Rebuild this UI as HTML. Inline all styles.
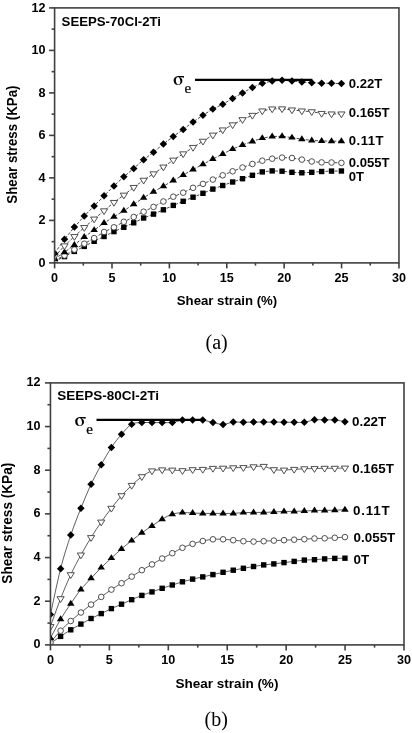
<!DOCTYPE html>
<html><head><meta charset="utf-8"><title>Shear stress vs shear strain</title>
<style>html,body{margin:0;padding:0;background:#fff;width:412px;height:733px;overflow:hidden}svg{display:block}</style>
</head><body>
<svg width="412" height="733" viewBox="0 0 412 733">
<style>.t{font-family:"Liberation Sans", Arial, sans-serif;font-weight:bold;font-size:12.6px;fill:#000}.lab{font-family:"Liberation Sans", Arial, sans-serif;font-weight:bold;font-size:13.1px;fill:#000}.lab2{font-family:"Liberation Sans", Arial, sans-serif;font-weight:bold;font-size:13.4px;fill:#000}.ttl{font-family:"Liberation Sans", Arial, sans-serif;font-weight:bold;font-size:13px;fill:#000}.sig{font-family:"Noto Serif CJK SC","Liberation Serif", "Times New Roman", serif;font-weight:bold;font-size:15.4px;fill:#000}.sub{font-family:"Liberation Serif", "Times New Roman", serif;font-size:13.6px;fill:#000;stroke:#000;stroke-width:0.25px}.cap{font-family:"Liberation Serif", "Times New Roman", serif;font-size:20px;fill:#000}</style>
<rect width="412" height="733" fill="#fff"/>
<clipPath id="ca"><rect x="54.6" y="7.9" width="344.35" height="255"/></clipPath>
<g clip-path="url(#ca)">
<path d="M54.6,261.5 L64.49,256.6 L74.38,251.4 L84.27,246.4 L94.16,241.3 L104.05,236.5 L113.94,231.6 L123.83,227.3 L133.72,222.8 L143.61,218 L153.5,214.1 L163.39,209.8 L173.28,205.4 L183.17,201.3 L193.06,197.2 L202.95,193.3 L212.84,189.1 L222.73,185.5 L232.62,182 L242.51,178.7 L252.4,175.3 L262.29,171.9 L272.18,170.9 L282.07,171.2 L291.96,172.3 L301.85,172.8 L311.74,172.3 L321.63,171.5 L331.52,171.1 L341.41,171" fill="none" stroke="#2a2a2a" stroke-width="0.85" stroke-dasharray="3,1.6"/>
<path d="M54.6,260.5 L64.49,255.5 L74.38,249.6 L84.27,243.7 L94.16,238.1 L104.05,232 L113.94,227.3 L123.83,221.8 L133.72,217 L143.61,211.7 L153.5,206.9 L163.39,201.5 L173.28,196.7 L183.17,192.7 L193.06,187.8 L202.95,183.9 L212.84,179.6 L222.73,175.3 L232.62,171.3 L242.51,167.5 L252.4,164 L262.29,160.7 L272.18,158.7 L282.07,157.6 L291.96,158 L301.85,159.6 L311.74,161.5 L321.63,162.4 L331.52,162.5 L341.41,162.9" fill="none" stroke="#2a2a2a" stroke-width="0.85" stroke-dasharray="3,1.6"/>
<path d="M54.6,259 L64.49,252.3 L74.38,244.9 L84.27,236.9 L94.16,230.1 L104.05,223 L113.94,216.8 L123.83,210.7 L133.72,204.3 L143.61,197.7 L153.5,191.7 L163.39,186.2 L173.28,180.5 L183.17,175 L193.06,169.5 L202.95,164.3 L212.84,159 L222.73,154 L232.62,149.1 L242.51,144.9 L252.4,141.4 L262.29,138.1 L272.18,136.5 L282.07,136.3 L291.96,137.6 L301.85,139.2 L311.74,140.4 L321.63,140.9 L331.52,141.2 L341.41,141.2" fill="none" stroke="#2a2a2a" stroke-width="0.85" stroke-dasharray="3,1.6"/>
<path d="M54.6,256.6 L64.49,245.8 L74.38,236.5 L84.27,227.5 L94.16,219 L104.05,210.8 L113.94,202.4 L123.83,195.1 L133.72,187.4 L143.61,180.2 L153.5,173.8 L163.39,167 L173.28,160.1 L183.17,153.8 L193.06,147.4 L202.95,141.2 L212.84,135.1 L222.73,129.9 L232.62,124.8 L242.51,119.6 L252.4,115.3 L262.29,110.9 L272.18,108.9 L282.07,108.8 L291.96,109.9 L301.85,110.9 L311.74,111.7 L321.63,113.4 L331.52,113.9 L341.41,113.9" fill="none" stroke="#2a2a2a" stroke-width="0.85" stroke-dasharray="3,1.6"/>
<path d="M54.6,253.4 L64.49,239.2 L74.38,227.1 L84.27,216 L94.16,206 L104.05,195.8 L113.94,185.9 L123.83,176.8 L133.72,168.4 L143.61,159.7 L153.5,152.3 L163.39,144 L173.28,136.6 L183.17,129.4 L193.06,122 L202.95,115.2 L212.84,109 L222.73,104.2 L232.62,98.5 L242.51,92.9 L252.4,87.5 L262.29,83.2 L272.18,81.1 L282.07,80.3 L291.96,81 L301.85,81.9 L311.74,82.7 L321.63,83.3 L331.52,83.3 L341.41,83.6" fill="none" stroke="#2a2a2a" stroke-width="0.85" stroke-dasharray="3,1.6"/>
<rect x="51.9" y="258.8" width="5.4" height="5.4" fill="#000"/>
<rect x="61.79" y="253.9" width="5.4" height="5.4" fill="#000"/>
<rect x="71.68" y="248.7" width="5.4" height="5.4" fill="#000"/>
<rect x="81.57" y="243.7" width="5.4" height="5.4" fill="#000"/>
<rect x="91.46" y="238.6" width="5.4" height="5.4" fill="#000"/>
<rect x="101.35" y="233.8" width="5.4" height="5.4" fill="#000"/>
<rect x="111.24" y="228.9" width="5.4" height="5.4" fill="#000"/>
<rect x="121.13" y="224.6" width="5.4" height="5.4" fill="#000"/>
<rect x="131.02" y="220.1" width="5.4" height="5.4" fill="#000"/>
<rect x="140.91" y="215.3" width="5.4" height="5.4" fill="#000"/>
<rect x="150.8" y="211.4" width="5.4" height="5.4" fill="#000"/>
<rect x="160.69" y="207.1" width="5.4" height="5.4" fill="#000"/>
<rect x="170.58" y="202.7" width="5.4" height="5.4" fill="#000"/>
<rect x="180.47" y="198.6" width="5.4" height="5.4" fill="#000"/>
<rect x="190.36" y="194.5" width="5.4" height="5.4" fill="#000"/>
<rect x="200.25" y="190.6" width="5.4" height="5.4" fill="#000"/>
<rect x="210.14" y="186.4" width="5.4" height="5.4" fill="#000"/>
<rect x="220.03" y="182.8" width="5.4" height="5.4" fill="#000"/>
<rect x="229.92" y="179.3" width="5.4" height="5.4" fill="#000"/>
<rect x="239.81" y="176" width="5.4" height="5.4" fill="#000"/>
<rect x="249.7" y="172.6" width="5.4" height="5.4" fill="#000"/>
<rect x="259.59" y="169.2" width="5.4" height="5.4" fill="#000"/>
<rect x="269.48" y="168.2" width="5.4" height="5.4" fill="#000"/>
<rect x="279.37" y="168.5" width="5.4" height="5.4" fill="#000"/>
<rect x="289.26" y="169.6" width="5.4" height="5.4" fill="#000"/>
<rect x="299.15" y="170.1" width="5.4" height="5.4" fill="#000"/>
<rect x="309.04" y="169.6" width="5.4" height="5.4" fill="#000"/>
<rect x="318.93" y="168.8" width="5.4" height="5.4" fill="#000"/>
<rect x="328.82" y="168.4" width="5.4" height="5.4" fill="#000"/>
<rect x="338.71" y="168.3" width="5.4" height="5.4" fill="#000"/>
<circle cx="54.6" cy="260.5" r="2.8" fill="#fff" stroke="#3c3c3c" stroke-width="0.9"/>
<circle cx="64.49" cy="255.5" r="2.8" fill="#fff" stroke="#3c3c3c" stroke-width="0.9"/>
<circle cx="74.38" cy="249.6" r="2.8" fill="#fff" stroke="#3c3c3c" stroke-width="0.9"/>
<circle cx="84.27" cy="243.7" r="2.8" fill="#fff" stroke="#3c3c3c" stroke-width="0.9"/>
<circle cx="94.16" cy="238.1" r="2.8" fill="#fff" stroke="#3c3c3c" stroke-width="0.9"/>
<circle cx="104.05" cy="232" r="2.8" fill="#fff" stroke="#3c3c3c" stroke-width="0.9"/>
<circle cx="113.94" cy="227.3" r="2.8" fill="#fff" stroke="#3c3c3c" stroke-width="0.9"/>
<circle cx="123.83" cy="221.8" r="2.8" fill="#fff" stroke="#3c3c3c" stroke-width="0.9"/>
<circle cx="133.72" cy="217" r="2.8" fill="#fff" stroke="#3c3c3c" stroke-width="0.9"/>
<circle cx="143.61" cy="211.7" r="2.8" fill="#fff" stroke="#3c3c3c" stroke-width="0.9"/>
<circle cx="153.5" cy="206.9" r="2.8" fill="#fff" stroke="#3c3c3c" stroke-width="0.9"/>
<circle cx="163.39" cy="201.5" r="2.8" fill="#fff" stroke="#3c3c3c" stroke-width="0.9"/>
<circle cx="173.28" cy="196.7" r="2.8" fill="#fff" stroke="#3c3c3c" stroke-width="0.9"/>
<circle cx="183.17" cy="192.7" r="2.8" fill="#fff" stroke="#3c3c3c" stroke-width="0.9"/>
<circle cx="193.06" cy="187.8" r="2.8" fill="#fff" stroke="#3c3c3c" stroke-width="0.9"/>
<circle cx="202.95" cy="183.9" r="2.8" fill="#fff" stroke="#3c3c3c" stroke-width="0.9"/>
<circle cx="212.84" cy="179.6" r="2.8" fill="#fff" stroke="#3c3c3c" stroke-width="0.9"/>
<circle cx="222.73" cy="175.3" r="2.8" fill="#fff" stroke="#3c3c3c" stroke-width="0.9"/>
<circle cx="232.62" cy="171.3" r="2.8" fill="#fff" stroke="#3c3c3c" stroke-width="0.9"/>
<circle cx="242.51" cy="167.5" r="2.8" fill="#fff" stroke="#3c3c3c" stroke-width="0.9"/>
<circle cx="252.4" cy="164" r="2.8" fill="#fff" stroke="#3c3c3c" stroke-width="0.9"/>
<circle cx="262.29" cy="160.7" r="2.8" fill="#fff" stroke="#3c3c3c" stroke-width="0.9"/>
<circle cx="272.18" cy="158.7" r="2.8" fill="#fff" stroke="#3c3c3c" stroke-width="0.9"/>
<circle cx="282.07" cy="157.6" r="2.8" fill="#fff" stroke="#3c3c3c" stroke-width="0.9"/>
<circle cx="291.96" cy="158" r="2.8" fill="#fff" stroke="#3c3c3c" stroke-width="0.9"/>
<circle cx="301.85" cy="159.6" r="2.8" fill="#fff" stroke="#3c3c3c" stroke-width="0.9"/>
<circle cx="311.74" cy="161.5" r="2.8" fill="#fff" stroke="#3c3c3c" stroke-width="0.9"/>
<circle cx="321.63" cy="162.4" r="2.8" fill="#fff" stroke="#3c3c3c" stroke-width="0.9"/>
<circle cx="331.52" cy="162.5" r="2.8" fill="#fff" stroke="#3c3c3c" stroke-width="0.9"/>
<circle cx="341.41" cy="162.9" r="2.8" fill="#fff" stroke="#3c3c3c" stroke-width="0.9"/>
<path d="M54.6,255.05L58.35,261L50.85,261Z" fill="#000"/>
<path d="M64.49,248.35L68.24,254.3L60.74,254.3Z" fill="#000"/>
<path d="M74.38,240.95L78.13,246.9L70.63,246.9Z" fill="#000"/>
<path d="M84.27,232.95L88.02,238.9L80.52,238.9Z" fill="#000"/>
<path d="M94.16,226.15L97.91,232.1L90.41,232.1Z" fill="#000"/>
<path d="M104.05,219.05L107.8,225L100.3,225Z" fill="#000"/>
<path d="M113.94,212.85L117.69,218.8L110.19,218.8Z" fill="#000"/>
<path d="M123.83,206.75L127.58,212.7L120.08,212.7Z" fill="#000"/>
<path d="M133.72,200.35L137.47,206.3L129.97,206.3Z" fill="#000"/>
<path d="M143.61,193.75L147.36,199.7L139.86,199.7Z" fill="#000"/>
<path d="M153.5,187.75L157.25,193.7L149.75,193.7Z" fill="#000"/>
<path d="M163.39,182.25L167.14,188.2L159.64,188.2Z" fill="#000"/>
<path d="M173.28,176.55L177.03,182.5L169.53,182.5Z" fill="#000"/>
<path d="M183.17,171.05L186.92,177L179.42,177Z" fill="#000"/>
<path d="M193.06,165.55L196.81,171.5L189.31,171.5Z" fill="#000"/>
<path d="M202.95,160.35L206.7,166.3L199.2,166.3Z" fill="#000"/>
<path d="M212.84,155.05L216.59,161L209.09,161Z" fill="#000"/>
<path d="M222.73,150.05L226.48,156L218.98,156Z" fill="#000"/>
<path d="M232.62,145.15L236.37,151.1L228.87,151.1Z" fill="#000"/>
<path d="M242.51,140.95L246.26,146.9L238.76,146.9Z" fill="#000"/>
<path d="M252.4,137.45L256.15,143.4L248.65,143.4Z" fill="#000"/>
<path d="M262.29,134.15L266.04,140.1L258.54,140.1Z" fill="#000"/>
<path d="M272.18,132.55L275.93,138.5L268.43,138.5Z" fill="#000"/>
<path d="M282.07,132.35L285.82,138.3L278.32,138.3Z" fill="#000"/>
<path d="M291.96,133.65L295.71,139.6L288.21,139.6Z" fill="#000"/>
<path d="M301.85,135.25L305.6,141.2L298.1,141.2Z" fill="#000"/>
<path d="M311.74,136.45L315.49,142.4L307.99,142.4Z" fill="#000"/>
<path d="M321.63,136.95L325.38,142.9L317.88,142.9Z" fill="#000"/>
<path d="M331.52,137.25L335.27,143.2L327.77,143.2Z" fill="#000"/>
<path d="M341.41,137.25L345.16,143.2L337.66,143.2Z" fill="#000"/>
<path d="M51,254.65L58.2,254.65L54.6,260.4Z" fill="#fff" stroke="#3c3c3c" stroke-width="0.9"/>
<path d="M60.89,243.85L68.09,243.85L64.49,249.6Z" fill="#fff" stroke="#3c3c3c" stroke-width="0.9"/>
<path d="M70.78,234.55L77.98,234.55L74.38,240.3Z" fill="#fff" stroke="#3c3c3c" stroke-width="0.9"/>
<path d="M80.67,225.55L87.87,225.55L84.27,231.3Z" fill="#fff" stroke="#3c3c3c" stroke-width="0.9"/>
<path d="M90.56,217.05L97.76,217.05L94.16,222.8Z" fill="#fff" stroke="#3c3c3c" stroke-width="0.9"/>
<path d="M100.45,208.85L107.65,208.85L104.05,214.6Z" fill="#fff" stroke="#3c3c3c" stroke-width="0.9"/>
<path d="M110.34,200.45L117.54,200.45L113.94,206.2Z" fill="#fff" stroke="#3c3c3c" stroke-width="0.9"/>
<path d="M120.23,193.15L127.43,193.15L123.83,198.9Z" fill="#fff" stroke="#3c3c3c" stroke-width="0.9"/>
<path d="M130.12,185.45L137.32,185.45L133.72,191.2Z" fill="#fff" stroke="#3c3c3c" stroke-width="0.9"/>
<path d="M140.01,178.25L147.21,178.25L143.61,184Z" fill="#fff" stroke="#3c3c3c" stroke-width="0.9"/>
<path d="M149.9,171.85L157.1,171.85L153.5,177.6Z" fill="#fff" stroke="#3c3c3c" stroke-width="0.9"/>
<path d="M159.79,165.05L166.99,165.05L163.39,170.8Z" fill="#fff" stroke="#3c3c3c" stroke-width="0.9"/>
<path d="M169.68,158.15L176.88,158.15L173.28,163.9Z" fill="#fff" stroke="#3c3c3c" stroke-width="0.9"/>
<path d="M179.57,151.85L186.77,151.85L183.17,157.6Z" fill="#fff" stroke="#3c3c3c" stroke-width="0.9"/>
<path d="M189.46,145.45L196.66,145.45L193.06,151.2Z" fill="#fff" stroke="#3c3c3c" stroke-width="0.9"/>
<path d="M199.35,139.25L206.55,139.25L202.95,145Z" fill="#fff" stroke="#3c3c3c" stroke-width="0.9"/>
<path d="M209.24,133.15L216.44,133.15L212.84,138.9Z" fill="#fff" stroke="#3c3c3c" stroke-width="0.9"/>
<path d="M219.13,127.95L226.33,127.95L222.73,133.7Z" fill="#fff" stroke="#3c3c3c" stroke-width="0.9"/>
<path d="M229.02,122.85L236.22,122.85L232.62,128.6Z" fill="#fff" stroke="#3c3c3c" stroke-width="0.9"/>
<path d="M238.91,117.65L246.11,117.65L242.51,123.4Z" fill="#fff" stroke="#3c3c3c" stroke-width="0.9"/>
<path d="M248.8,113.35L256,113.35L252.4,119.1Z" fill="#fff" stroke="#3c3c3c" stroke-width="0.9"/>
<path d="M258.69,108.95L265.89,108.95L262.29,114.7Z" fill="#fff" stroke="#3c3c3c" stroke-width="0.9"/>
<path d="M268.58,106.95L275.78,106.95L272.18,112.7Z" fill="#fff" stroke="#3c3c3c" stroke-width="0.9"/>
<path d="M278.47,106.85L285.67,106.85L282.07,112.6Z" fill="#fff" stroke="#3c3c3c" stroke-width="0.9"/>
<path d="M288.36,107.95L295.56,107.95L291.96,113.7Z" fill="#fff" stroke="#3c3c3c" stroke-width="0.9"/>
<path d="M298.25,108.95L305.45,108.95L301.85,114.7Z" fill="#fff" stroke="#3c3c3c" stroke-width="0.9"/>
<path d="M308.14,109.75L315.34,109.75L311.74,115.5Z" fill="#fff" stroke="#3c3c3c" stroke-width="0.9"/>
<path d="M318.03,111.45L325.23,111.45L321.63,117.2Z" fill="#fff" stroke="#3c3c3c" stroke-width="0.9"/>
<path d="M327.92,111.95L335.12,111.95L331.52,117.7Z" fill="#fff" stroke="#3c3c3c" stroke-width="0.9"/>
<path d="M337.81,111.95L345.01,111.95L341.41,117.7Z" fill="#fff" stroke="#3c3c3c" stroke-width="0.9"/>
<path d="M54.6,249.65L58.35,253.4L54.6,257.15L50.85,253.4Z" fill="#000"/>
<path d="M64.49,235.45L68.24,239.2L64.49,242.95L60.74,239.2Z" fill="#000"/>
<path d="M74.38,223.35L78.13,227.1L74.38,230.85L70.63,227.1Z" fill="#000"/>
<path d="M84.27,212.25L88.02,216L84.27,219.75L80.52,216Z" fill="#000"/>
<path d="M94.16,202.25L97.91,206L94.16,209.75L90.41,206Z" fill="#000"/>
<path d="M104.05,192.05L107.8,195.8L104.05,199.55L100.3,195.8Z" fill="#000"/>
<path d="M113.94,182.15L117.69,185.9L113.94,189.65L110.19,185.9Z" fill="#000"/>
<path d="M123.83,173.05L127.58,176.8L123.83,180.55L120.08,176.8Z" fill="#000"/>
<path d="M133.72,164.65L137.47,168.4L133.72,172.15L129.97,168.4Z" fill="#000"/>
<path d="M143.61,155.95L147.36,159.7L143.61,163.45L139.86,159.7Z" fill="#000"/>
<path d="M153.5,148.55L157.25,152.3L153.5,156.05L149.75,152.3Z" fill="#000"/>
<path d="M163.39,140.25L167.14,144L163.39,147.75L159.64,144Z" fill="#000"/>
<path d="M173.28,132.85L177.03,136.6L173.28,140.35L169.53,136.6Z" fill="#000"/>
<path d="M183.17,125.65L186.92,129.4L183.17,133.15L179.42,129.4Z" fill="#000"/>
<path d="M193.06,118.25L196.81,122L193.06,125.75L189.31,122Z" fill="#000"/>
<path d="M202.95,111.45L206.7,115.2L202.95,118.95L199.2,115.2Z" fill="#000"/>
<path d="M212.84,105.25L216.59,109L212.84,112.75L209.09,109Z" fill="#000"/>
<path d="M222.73,100.45L226.48,104.2L222.73,107.95L218.98,104.2Z" fill="#000"/>
<path d="M232.62,94.75L236.37,98.5L232.62,102.25L228.87,98.5Z" fill="#000"/>
<path d="M242.51,89.15L246.26,92.9L242.51,96.65L238.76,92.9Z" fill="#000"/>
<path d="M252.4,83.75L256.15,87.5L252.4,91.25L248.65,87.5Z" fill="#000"/>
<path d="M262.29,79.45L266.04,83.2L262.29,86.95L258.54,83.2Z" fill="#000"/>
<path d="M272.18,77.35L275.93,81.1L272.18,84.85L268.43,81.1Z" fill="#000"/>
<path d="M282.07,76.55L285.82,80.3L282.07,84.05L278.32,80.3Z" fill="#000"/>
<path d="M291.96,77.25L295.71,81L291.96,84.75L288.21,81Z" fill="#000"/>
<path d="M301.85,78.15L305.6,81.9L301.85,85.65L298.1,81.9Z" fill="#000"/>
<path d="M311.74,78.95L315.49,82.7L311.74,86.45L307.99,82.7Z" fill="#000"/>
<path d="M321.63,79.55L325.38,83.3L321.63,87.05L317.88,83.3Z" fill="#000"/>
<path d="M331.52,79.55L335.27,83.3L331.52,87.05L327.77,83.3Z" fill="#000"/>
<path d="M341.41,79.85L345.16,83.6L341.41,87.35L337.66,83.6Z" fill="#000"/>
</g>
<rect x="54.6" y="7.9" width="344.35" height="255" fill="none" stroke="#404040" stroke-width="1.6"/>
<line x1="49.1" y1="262.9" x2="54.6" y2="262.9" stroke="#404040" stroke-width="1.6"/>
<text x="45.4" y="266.7" text-anchor="end" class="t">0</text>
<line x1="51.6" y1="241.65" x2="54.6" y2="241.65" stroke="#404040" stroke-width="1.6"/>
<line x1="49.1" y1="220.4" x2="54.6" y2="220.4" stroke="#404040" stroke-width="1.6"/>
<text x="45.4" y="224.2" text-anchor="end" class="t">2</text>
<line x1="51.6" y1="199.15" x2="54.6" y2="199.15" stroke="#404040" stroke-width="1.6"/>
<line x1="49.1" y1="177.9" x2="54.6" y2="177.9" stroke="#404040" stroke-width="1.6"/>
<text x="45.4" y="181.7" text-anchor="end" class="t">4</text>
<line x1="51.6" y1="156.65" x2="54.6" y2="156.65" stroke="#404040" stroke-width="1.6"/>
<line x1="49.1" y1="135.4" x2="54.6" y2="135.4" stroke="#404040" stroke-width="1.6"/>
<text x="45.4" y="139.2" text-anchor="end" class="t">6</text>
<line x1="51.6" y1="114.15" x2="54.6" y2="114.15" stroke="#404040" stroke-width="1.6"/>
<line x1="49.1" y1="92.9" x2="54.6" y2="92.9" stroke="#404040" stroke-width="1.6"/>
<text x="45.4" y="96.7" text-anchor="end" class="t">8</text>
<line x1="51.6" y1="71.65" x2="54.6" y2="71.65" stroke="#404040" stroke-width="1.6"/>
<line x1="49.1" y1="50.4" x2="54.6" y2="50.4" stroke="#404040" stroke-width="1.6"/>
<text x="45.4" y="54.2" text-anchor="end" class="t">10</text>
<line x1="51.6" y1="29.15" x2="54.6" y2="29.15" stroke="#404040" stroke-width="1.6"/>
<line x1="49.1" y1="7.9" x2="54.6" y2="7.9" stroke="#404040" stroke-width="1.6"/>
<text x="45.4" y="11.7" text-anchor="end" class="t">12</text>
<line x1="54.6" y1="262.9" x2="54.6" y2="268.4" stroke="#404040" stroke-width="1.6"/>
<text x="54.6" y="282.3" text-anchor="middle" class="t">0</text>
<line x1="83.3" y1="262.9" x2="83.3" y2="265.6" stroke="#404040" stroke-width="1.6"/>
<line x1="111.99" y1="262.9" x2="111.99" y2="268.4" stroke="#404040" stroke-width="1.6"/>
<text x="111.99" y="282.3" text-anchor="middle" class="t">5</text>
<line x1="140.69" y1="262.9" x2="140.69" y2="265.6" stroke="#404040" stroke-width="1.6"/>
<line x1="169.38" y1="262.9" x2="169.38" y2="268.4" stroke="#404040" stroke-width="1.6"/>
<text x="169.38" y="282.3" text-anchor="middle" class="t">10</text>
<line x1="198.08" y1="262.9" x2="198.08" y2="265.6" stroke="#404040" stroke-width="1.6"/>
<line x1="226.77" y1="262.9" x2="226.77" y2="268.4" stroke="#404040" stroke-width="1.6"/>
<text x="226.77" y="282.3" text-anchor="middle" class="t">15</text>
<line x1="255.47" y1="262.9" x2="255.47" y2="265.6" stroke="#404040" stroke-width="1.6"/>
<line x1="284.17" y1="262.9" x2="284.17" y2="268.4" stroke="#404040" stroke-width="1.6"/>
<text x="284.17" y="282.3" text-anchor="middle" class="t">20</text>
<line x1="312.86" y1="262.9" x2="312.86" y2="265.6" stroke="#404040" stroke-width="1.6"/>
<line x1="341.56" y1="262.9" x2="341.56" y2="268.4" stroke="#404040" stroke-width="1.6"/>
<text x="341.56" y="282.3" text-anchor="middle" class="t">25</text>
<line x1="370.25" y1="262.9" x2="370.25" y2="265.6" stroke="#404040" stroke-width="1.6"/>
<line x1="398.95" y1="262.9" x2="398.95" y2="268.4" stroke="#404040" stroke-width="1.6"/>
<text x="398.95" y="282.3" text-anchor="middle" class="t">30</text>
<line x1="195" y1="79.9" x2="312.3" y2="79.9" stroke="#000" stroke-width="2.2"/>
<text transform="translate(172.9,84.9) scale(1.1,1)" class="sig">σ</text>
<text transform="translate(184.4,92.7) scale(1.1,1)" class="sub">e</text>
<text x="61.6" y="26.3" class="ttl" style="font-size:13.2px">SEEPS-70Cl-2Ti</text>
<text x="176.8" y="305.0" class="ttl" style="font-size:13.2px">Shear strain (%)</text>
<text transform="translate(16.8,144.6) rotate(-90) scale(1,1.07)" text-anchor="middle" class="ttl" style="font-size:13.3px">Shear stress (KPa)</text>
<text x="348.8" y="87.9" class="lab">0.22T</text>
<text x="348.8" y="116.5" class="lab">0.165T</text>
<text x="348.8" y="145" class="lab" style="letter-spacing:0.5px">0.11T</text>
<text x="348.8" y="167.3" class="lab">0.055T</text>
<text x="348.8" y="180.5" class="lab">0T</text>
<text transform="translate(205.5,348.6) scale(1,1.08)" class="cap">(a)</text>
<clipPath id="cb"><rect x="50.45" y="382.9" width="353.55" height="262"/></clipPath>
<g clip-path="url(#cb)">
<path d="M50.45,643.3 C52.14,642.15 57.22,638.65 60.61,636.4 C63.99,634.15 67.38,631.85 70.76,629.8 C74.15,627.75 77.53,625.98 80.91,624.1 C84.3,622.22 87.68,620.25 91.07,618.5 C94.45,616.75 97.84,615.25 101.22,613.6 C104.61,611.95 107.99,610.17 111.38,608.6 C114.77,607.03 118.15,605.68 121.53,604.2 C124.92,602.72 128.31,601.17 131.69,599.7 C135.07,598.23 138.46,596.7 141.84,595.4 C145.23,594.1 148.62,593.08 152,591.9 C155.38,590.72 158.77,589.45 162.16,588.3 C165.54,587.15 168.93,586.08 172.31,585 C175.69,583.92 179.08,582.78 182.46,581.8 C185.85,580.82 189.24,579.92 192.62,579.1 C196,578.28 199.39,577.65 202.77,576.9 C206.16,576.15 209.55,575.37 212.93,574.6 C216.31,573.83 219.7,573.03 223.08,572.3 C226.47,571.57 229.86,570.87 233.24,570.2 C236.62,569.53 240.01,568.92 243.39,568.3 C246.78,567.68 250.17,567.07 253.55,566.5 C256.94,565.93 260.32,565.33 263.7,564.9 C267.09,564.47 270.48,564.28 273.86,563.9 C277.25,563.52 280.63,563.02 284.01,562.6 C287.4,562.18 290.78,561.82 294.17,561.4 C297.55,560.98 300.94,560.38 304.32,560.1 C307.71,559.82 311.09,559.9 314.48,559.7 C317.86,559.5 321.25,559.12 324.63,558.9 C328.02,558.68 331.4,558.52 334.79,558.4 C338.17,558.28 343.25,558.23 344.94,558.2" fill="none" stroke="#2a2a2a" stroke-width="0.75"/>
<path d="M50.45,642.4 C52.14,640.45 57.22,634.27 60.61,630.7 C63.99,627.13 67.38,624.03 70.76,621 C74.15,617.97 77.53,615.23 80.91,612.5 C84.3,609.77 87.68,607.2 91.07,604.6 C94.45,602 97.84,599.4 101.22,596.9 C104.61,594.4 107.99,591.88 111.38,589.6 C114.77,587.32 118.15,585.37 121.53,583.2 C124.92,581.03 128.31,578.77 131.69,576.6 C135.07,574.43 138.46,572.23 141.84,570.2 C145.23,568.17 148.62,566.35 152,564.4 C155.38,562.45 158.77,560.37 162.16,558.5 C165.54,556.63 168.93,554.98 172.31,553.2 C175.69,551.42 179.08,549.35 182.46,547.8 C185.85,546.25 189.24,545.03 192.62,543.9 C196,542.77 199.39,541.77 202.77,541 C206.16,540.23 209.55,539.58 212.93,539.3 C216.31,539.02 219.7,539.15 223.08,539.3 C226.47,539.45 229.86,539.88 233.24,540.2 C236.62,540.52 240.01,540.97 243.39,541.2 C246.78,541.43 250.17,541.6 253.55,541.6 C256.94,541.6 260.32,541.37 263.7,541.2 C267.09,541.03 270.48,540.77 273.86,540.6 C277.25,540.43 280.63,540.35 284.01,540.2 C287.4,540.05 290.78,539.87 294.17,539.7 C297.55,539.53 300.94,539.4 304.32,539.2 C307.71,539 311.09,538.65 314.48,538.5 C317.86,538.35 321.25,538.42 324.63,538.3 C328.02,538.18 331.4,538 334.79,537.8 C338.17,537.6 343.25,537.22 344.94,537.1" fill="none" stroke="#2a2a2a" stroke-width="0.75"/>
<path d="M50.45,638.1 C52.14,634.97 57.22,625.03 60.61,619.3 C63.99,613.57 67.38,608.68 70.76,603.7 C74.15,598.72 77.53,593.63 80.91,589.4 C84.3,585.17 87.68,581.93 91.07,578.3 C94.45,574.67 97.84,570.97 101.22,567.6 C104.61,564.23 107.99,561.22 111.38,558.1 C114.77,554.98 118.15,551.82 121.53,548.9 C124.92,545.98 128.31,543.28 131.69,540.6 C135.07,537.92 138.46,535.23 141.84,532.8 C145.23,530.37 148.62,528.27 152,526 C155.38,523.73 158.77,521.17 162.16,519.2 C165.54,517.23 168.93,515.3 172.31,514.2 C175.69,513.1 179.08,512.8 182.46,512.6 C185.85,512.4 189.24,512.87 192.62,513 C196,513.13 199.39,513.33 202.77,513.4 C206.16,513.47 209.55,513.4 212.93,513.4 C216.31,513.4 219.7,513.4 223.08,513.4 C226.47,513.4 229.86,513.53 233.24,513.4 C236.62,513.27 240.01,512.77 243.39,512.6 C246.78,512.43 250.17,512.43 253.55,512.4 C256.94,512.37 260.32,512.47 263.7,512.4 C267.09,512.33 270.48,512.17 273.86,512 C277.25,511.83 280.63,511.5 284.01,511.4 C287.4,511.3 290.78,511.47 294.17,511.4 C297.55,511.33 300.94,511.15 304.32,511 C307.71,510.85 311.09,510.6 314.48,510.5 C317.86,510.4 321.25,510.45 324.63,510.4 C328.02,510.35 331.4,510.32 334.79,510.2 C338.17,510.08 343.25,509.78 344.94,509.7" fill="none" stroke="#2a2a2a" stroke-width="0.75"/>
<path d="M50.45,626.55 C52.14,621.9 57.22,607.3 60.61,598.65 C63.99,590 67.38,581.93 70.76,574.65 C74.15,567.37 77.53,561.13 80.91,554.95 C84.3,548.77 87.68,543.03 91.07,537.55 C94.45,532.07 97.84,526.93 101.22,522.05 C104.61,517.17 107.99,512.65 111.38,508.25 C114.77,503.85 118.15,499.47 121.53,495.65 C124.92,491.83 128.31,488.52 131.69,485.35 C135.07,482.18 138.46,479.07 141.84,476.65 C145.23,474.23 148.62,471.98 152,470.85 C155.38,469.72 158.77,469.98 162.16,469.85 C165.54,469.72 168.93,469.92 172.31,470.05 C175.69,470.18 179.08,470.72 182.46,470.65 C185.85,470.58 189.24,469.87 192.62,469.65 C196,469.43 199.39,469.57 202.77,469.35 C206.16,469.13 209.55,468.55 212.93,468.35 C216.31,468.15 219.7,468.25 223.08,468.15 C226.47,468.05 229.86,467.85 233.24,467.75 C236.62,467.65 240.01,467.72 243.39,467.55 C246.78,467.38 250.17,466.95 253.55,466.75 C256.94,466.55 260.32,465.87 263.7,466.35 C267.09,466.83 270.48,469.03 273.86,469.65 C277.25,470.27 280.63,470.1 284.01,470.05 C287.4,470 290.78,469.57 294.17,469.35 C297.55,469.13 300.94,468.88 304.32,468.75 C307.71,468.62 311.09,468.63 314.48,468.55 C317.86,468.47 321.25,468.3 324.63,468.25 C328.02,468.2 331.4,468.28 334.79,468.25 C338.17,468.22 343.25,468.08 344.94,468.05" fill="none" stroke="#2a2a2a" stroke-width="0.75"/>
<path d="M50.45,614.6 C52.14,606.95 57.22,581.95 60.61,568.7 C63.99,555.45 67.38,545.17 70.76,535.1 C74.15,525.03 77.53,516.77 80.91,508.3 C84.3,499.83 87.68,491.55 91.07,484.3 C94.45,477.05 97.84,470.93 101.22,464.8 C104.61,458.67 107.99,452.58 111.38,447.5 C114.77,442.42 118.15,438.18 121.53,434.3 C124.92,430.42 128.31,426.15 131.69,424.2 C135.07,422.25 138.46,422.87 141.84,422.6 C145.23,422.33 148.62,422.6 152,422.6 C155.38,422.6 158.77,422.62 162.16,422.6 C165.54,422.58 168.93,422.92 172.31,422.5 C175.69,422.08 179.08,420.5 182.46,420.1 C185.85,419.7 189.24,420.1 192.62,420.1 C196,420.1 199.39,419.7 202.77,420.1 C206.16,420.5 209.55,421.78 212.93,422.5 C216.31,423.22 219.7,424.47 223.08,424.4 C226.47,424.33 229.86,422.45 233.24,422.1 C236.62,421.75 240.01,422.3 243.39,422.3 C246.78,422.3 250.17,422.13 253.55,422.1 C256.94,422.07 260.32,422.1 263.7,422.1 C267.09,422.1 270.48,422.08 273.86,422.1 C277.25,422.12 280.63,422.17 284.01,422.2 C287.4,422.23 290.78,422.28 294.17,422.3 C297.55,422.32 300.94,422.72 304.32,422.3 C307.71,421.88 311.09,420.2 314.48,419.8 C317.86,419.4 321.25,419.88 324.63,419.9 C328.02,419.92 331.4,419.6 334.79,419.9 C338.17,420.2 343.25,421.4 344.94,421.7" fill="none" stroke="#2a2a2a" stroke-width="0.75"/>
<rect x="47.75" y="640.6" width="5.4" height="5.4" fill="#000"/>
<rect x="57.91" y="633.7" width="5.4" height="5.4" fill="#000"/>
<rect x="68.06" y="627.1" width="5.4" height="5.4" fill="#000"/>
<rect x="78.21" y="621.4" width="5.4" height="5.4" fill="#000"/>
<rect x="88.37" y="615.8" width="5.4" height="5.4" fill="#000"/>
<rect x="98.52" y="610.9" width="5.4" height="5.4" fill="#000"/>
<rect x="108.68" y="605.9" width="5.4" height="5.4" fill="#000"/>
<rect x="118.83" y="601.5" width="5.4" height="5.4" fill="#000"/>
<rect x="128.99" y="597" width="5.4" height="5.4" fill="#000"/>
<rect x="139.15" y="592.7" width="5.4" height="5.4" fill="#000"/>
<rect x="149.3" y="589.2" width="5.4" height="5.4" fill="#000"/>
<rect x="159.46" y="585.6" width="5.4" height="5.4" fill="#000"/>
<rect x="169.61" y="582.3" width="5.4" height="5.4" fill="#000"/>
<rect x="179.76" y="579.1" width="5.4" height="5.4" fill="#000"/>
<rect x="189.92" y="576.4" width="5.4" height="5.4" fill="#000"/>
<rect x="200.07" y="574.2" width="5.4" height="5.4" fill="#000"/>
<rect x="210.23" y="571.9" width="5.4" height="5.4" fill="#000"/>
<rect x="220.38" y="569.6" width="5.4" height="5.4" fill="#000"/>
<rect x="230.54" y="567.5" width="5.4" height="5.4" fill="#000"/>
<rect x="240.69" y="565.6" width="5.4" height="5.4" fill="#000"/>
<rect x="250.85" y="563.8" width="5.4" height="5.4" fill="#000"/>
<rect x="261" y="562.2" width="5.4" height="5.4" fill="#000"/>
<rect x="271.16" y="561.2" width="5.4" height="5.4" fill="#000"/>
<rect x="281.31" y="559.9" width="5.4" height="5.4" fill="#000"/>
<rect x="291.47" y="558.7" width="5.4" height="5.4" fill="#000"/>
<rect x="301.62" y="557.4" width="5.4" height="5.4" fill="#000"/>
<rect x="311.78" y="557" width="5.4" height="5.4" fill="#000"/>
<rect x="321.94" y="556.2" width="5.4" height="5.4" fill="#000"/>
<rect x="332.09" y="555.7" width="5.4" height="5.4" fill="#000"/>
<rect x="342.25" y="555.5" width="5.4" height="5.4" fill="#000"/>
<circle cx="50.45" cy="642.4" r="2.8" fill="#fff" stroke="#3c3c3c" stroke-width="0.9"/>
<circle cx="60.61" cy="630.7" r="2.8" fill="#fff" stroke="#3c3c3c" stroke-width="0.9"/>
<circle cx="70.76" cy="621" r="2.8" fill="#fff" stroke="#3c3c3c" stroke-width="0.9"/>
<circle cx="80.91" cy="612.5" r="2.8" fill="#fff" stroke="#3c3c3c" stroke-width="0.9"/>
<circle cx="91.07" cy="604.6" r="2.8" fill="#fff" stroke="#3c3c3c" stroke-width="0.9"/>
<circle cx="101.22" cy="596.9" r="2.8" fill="#fff" stroke="#3c3c3c" stroke-width="0.9"/>
<circle cx="111.38" cy="589.6" r="2.8" fill="#fff" stroke="#3c3c3c" stroke-width="0.9"/>
<circle cx="121.53" cy="583.2" r="2.8" fill="#fff" stroke="#3c3c3c" stroke-width="0.9"/>
<circle cx="131.69" cy="576.6" r="2.8" fill="#fff" stroke="#3c3c3c" stroke-width="0.9"/>
<circle cx="141.84" cy="570.2" r="2.8" fill="#fff" stroke="#3c3c3c" stroke-width="0.9"/>
<circle cx="152" cy="564.4" r="2.8" fill="#fff" stroke="#3c3c3c" stroke-width="0.9"/>
<circle cx="162.16" cy="558.5" r="2.8" fill="#fff" stroke="#3c3c3c" stroke-width="0.9"/>
<circle cx="172.31" cy="553.2" r="2.8" fill="#fff" stroke="#3c3c3c" stroke-width="0.9"/>
<circle cx="182.46" cy="547.8" r="2.8" fill="#fff" stroke="#3c3c3c" stroke-width="0.9"/>
<circle cx="192.62" cy="543.9" r="2.8" fill="#fff" stroke="#3c3c3c" stroke-width="0.9"/>
<circle cx="202.77" cy="541" r="2.8" fill="#fff" stroke="#3c3c3c" stroke-width="0.9"/>
<circle cx="212.93" cy="539.3" r="2.8" fill="#fff" stroke="#3c3c3c" stroke-width="0.9"/>
<circle cx="223.08" cy="539.3" r="2.8" fill="#fff" stroke="#3c3c3c" stroke-width="0.9"/>
<circle cx="233.24" cy="540.2" r="2.8" fill="#fff" stroke="#3c3c3c" stroke-width="0.9"/>
<circle cx="243.39" cy="541.2" r="2.8" fill="#fff" stroke="#3c3c3c" stroke-width="0.9"/>
<circle cx="253.55" cy="541.6" r="2.8" fill="#fff" stroke="#3c3c3c" stroke-width="0.9"/>
<circle cx="263.7" cy="541.2" r="2.8" fill="#fff" stroke="#3c3c3c" stroke-width="0.9"/>
<circle cx="273.86" cy="540.6" r="2.8" fill="#fff" stroke="#3c3c3c" stroke-width="0.9"/>
<circle cx="284.01" cy="540.2" r="2.8" fill="#fff" stroke="#3c3c3c" stroke-width="0.9"/>
<circle cx="294.17" cy="539.7" r="2.8" fill="#fff" stroke="#3c3c3c" stroke-width="0.9"/>
<circle cx="304.32" cy="539.2" r="2.8" fill="#fff" stroke="#3c3c3c" stroke-width="0.9"/>
<circle cx="314.48" cy="538.5" r="2.8" fill="#fff" stroke="#3c3c3c" stroke-width="0.9"/>
<circle cx="324.63" cy="538.3" r="2.8" fill="#fff" stroke="#3c3c3c" stroke-width="0.9"/>
<circle cx="334.79" cy="537.8" r="2.8" fill="#fff" stroke="#3c3c3c" stroke-width="0.9"/>
<circle cx="344.94" cy="537.1" r="2.8" fill="#fff" stroke="#3c3c3c" stroke-width="0.9"/>
<path d="M50.45,634.15L54.2,640.1L46.7,640.1Z" fill="#000"/>
<path d="M60.61,615.35L64.36,621.3L56.86,621.3Z" fill="#000"/>
<path d="M70.76,599.75L74.51,605.7L67.01,605.7Z" fill="#000"/>
<path d="M80.91,585.45L84.66,591.4L77.16,591.4Z" fill="#000"/>
<path d="M91.07,574.35L94.82,580.3L87.32,580.3Z" fill="#000"/>
<path d="M101.22,563.65L104.97,569.6L97.47,569.6Z" fill="#000"/>
<path d="M111.38,554.15L115.13,560.1L107.63,560.1Z" fill="#000"/>
<path d="M121.53,544.95L125.28,550.9L117.78,550.9Z" fill="#000"/>
<path d="M131.69,536.65L135.44,542.6L127.94,542.6Z" fill="#000"/>
<path d="M141.84,528.85L145.59,534.8L138.09,534.8Z" fill="#000"/>
<path d="M152,522.05L155.75,528L148.25,528Z" fill="#000"/>
<path d="M162.16,515.25L165.91,521.2L158.41,521.2Z" fill="#000"/>
<path d="M172.31,510.25L176.06,516.2L168.56,516.2Z" fill="#000"/>
<path d="M182.46,508.65L186.21,514.6L178.71,514.6Z" fill="#000"/>
<path d="M192.62,509.05L196.37,515L188.87,515Z" fill="#000"/>
<path d="M202.77,509.45L206.52,515.4L199.02,515.4Z" fill="#000"/>
<path d="M212.93,509.45L216.68,515.4L209.18,515.4Z" fill="#000"/>
<path d="M223.08,509.45L226.83,515.4L219.33,515.4Z" fill="#000"/>
<path d="M233.24,509.45L236.99,515.4L229.49,515.4Z" fill="#000"/>
<path d="M243.39,508.65L247.14,514.6L239.64,514.6Z" fill="#000"/>
<path d="M253.55,508.45L257.3,514.4L249.8,514.4Z" fill="#000"/>
<path d="M263.7,508.45L267.45,514.4L259.95,514.4Z" fill="#000"/>
<path d="M273.86,508.05L277.61,514L270.11,514Z" fill="#000"/>
<path d="M284.01,507.45L287.76,513.4L280.26,513.4Z" fill="#000"/>
<path d="M294.17,507.45L297.92,513.4L290.42,513.4Z" fill="#000"/>
<path d="M304.32,507.05L308.07,513L300.57,513Z" fill="#000"/>
<path d="M314.48,506.55L318.23,512.5L310.73,512.5Z" fill="#000"/>
<path d="M324.63,506.45L328.38,512.4L320.88,512.4Z" fill="#000"/>
<path d="M334.79,506.25L338.54,512.2L331.04,512.2Z" fill="#000"/>
<path d="M344.94,505.75L348.69,511.7L341.19,511.7Z" fill="#000"/>
<path d="M46.85,624.6L54.05,624.6L50.45,630.35Z" fill="#fff" stroke="#3c3c3c" stroke-width="0.9"/>
<path d="M57.01,596.7L64.2,596.7L60.61,602.45Z" fill="#fff" stroke="#3c3c3c" stroke-width="0.9"/>
<path d="M67.16,572.7L74.36,572.7L70.76,578.45Z" fill="#fff" stroke="#3c3c3c" stroke-width="0.9"/>
<path d="M77.31,553L84.51,553L80.91,558.75Z" fill="#fff" stroke="#3c3c3c" stroke-width="0.9"/>
<path d="M87.47,535.6L94.67,535.6L91.07,541.35Z" fill="#fff" stroke="#3c3c3c" stroke-width="0.9"/>
<path d="M97.62,520.1L104.82,520.1L101.22,525.85Z" fill="#fff" stroke="#3c3c3c" stroke-width="0.9"/>
<path d="M107.78,506.3L114.98,506.3L111.38,512.05Z" fill="#fff" stroke="#3c3c3c" stroke-width="0.9"/>
<path d="M117.94,493.7L125.13,493.7L121.53,499.45Z" fill="#fff" stroke="#3c3c3c" stroke-width="0.9"/>
<path d="M128.09,483.4L135.29,483.4L131.69,489.15Z" fill="#fff" stroke="#3c3c3c" stroke-width="0.9"/>
<path d="M138.25,474.7L145.44,474.7L141.84,480.45Z" fill="#fff" stroke="#3c3c3c" stroke-width="0.9"/>
<path d="M148.4,468.9L155.6,468.9L152,474.65Z" fill="#fff" stroke="#3c3c3c" stroke-width="0.9"/>
<path d="M158.56,467.9L165.75,467.9L162.16,473.65Z" fill="#fff" stroke="#3c3c3c" stroke-width="0.9"/>
<path d="M168.71,468.1L175.91,468.1L172.31,473.85Z" fill="#fff" stroke="#3c3c3c" stroke-width="0.9"/>
<path d="M178.86,468.7L186.06,468.7L182.46,474.45Z" fill="#fff" stroke="#3c3c3c" stroke-width="0.9"/>
<path d="M189.02,467.7L196.22,467.7L192.62,473.45Z" fill="#fff" stroke="#3c3c3c" stroke-width="0.9"/>
<path d="M199.17,467.4L206.37,467.4L202.77,473.15Z" fill="#fff" stroke="#3c3c3c" stroke-width="0.9"/>
<path d="M209.33,466.4L216.53,466.4L212.93,472.15Z" fill="#fff" stroke="#3c3c3c" stroke-width="0.9"/>
<path d="M219.48,466.2L226.68,466.2L223.08,471.95Z" fill="#fff" stroke="#3c3c3c" stroke-width="0.9"/>
<path d="M229.64,465.8L236.84,465.8L233.24,471.55Z" fill="#fff" stroke="#3c3c3c" stroke-width="0.9"/>
<path d="M239.79,465.6L246.99,465.6L243.39,471.35Z" fill="#fff" stroke="#3c3c3c" stroke-width="0.9"/>
<path d="M249.95,464.8L257.15,464.8L253.55,470.55Z" fill="#fff" stroke="#3c3c3c" stroke-width="0.9"/>
<path d="M260.1,464.4L267.31,464.4L263.7,470.15Z" fill="#fff" stroke="#3c3c3c" stroke-width="0.9"/>
<path d="M270.26,467.7L277.46,467.7L273.86,473.45Z" fill="#fff" stroke="#3c3c3c" stroke-width="0.9"/>
<path d="M280.41,468.1L287.62,468.1L284.01,473.85Z" fill="#fff" stroke="#3c3c3c" stroke-width="0.9"/>
<path d="M290.57,467.4L297.77,467.4L294.17,473.15Z" fill="#fff" stroke="#3c3c3c" stroke-width="0.9"/>
<path d="M300.72,466.8L307.93,466.8L304.32,472.55Z" fill="#fff" stroke="#3c3c3c" stroke-width="0.9"/>
<path d="M310.88,466.6L318.08,466.6L314.48,472.35Z" fill="#fff" stroke="#3c3c3c" stroke-width="0.9"/>
<path d="M321.03,466.3L328.24,466.3L324.63,472.05Z" fill="#fff" stroke="#3c3c3c" stroke-width="0.9"/>
<path d="M331.19,466.3L338.39,466.3L334.79,472.05Z" fill="#fff" stroke="#3c3c3c" stroke-width="0.9"/>
<path d="M341.34,466.1L348.55,466.1L344.94,471.85Z" fill="#fff" stroke="#3c3c3c" stroke-width="0.9"/>
<path d="M50.45,610.85L54.2,614.6L50.45,618.35L46.7,614.6Z" fill="#000"/>
<path d="M60.61,564.95L64.36,568.7L60.61,572.45L56.86,568.7Z" fill="#000"/>
<path d="M70.76,531.35L74.51,535.1L70.76,538.85L67.01,535.1Z" fill="#000"/>
<path d="M80.91,504.55L84.66,508.3L80.91,512.05L77.16,508.3Z" fill="#000"/>
<path d="M91.07,480.55L94.82,484.3L91.07,488.05L87.32,484.3Z" fill="#000"/>
<path d="M101.22,461.05L104.97,464.8L101.22,468.55L97.47,464.8Z" fill="#000"/>
<path d="M111.38,443.75L115.13,447.5L111.38,451.25L107.63,447.5Z" fill="#000"/>
<path d="M121.53,430.55L125.28,434.3L121.53,438.05L117.78,434.3Z" fill="#000"/>
<path d="M131.69,420.45L135.44,424.2L131.69,427.95L127.94,424.2Z" fill="#000"/>
<path d="M141.84,418.85L145.59,422.6L141.84,426.35L138.09,422.6Z" fill="#000"/>
<path d="M152,418.85L155.75,422.6L152,426.35L148.25,422.6Z" fill="#000"/>
<path d="M162.16,418.85L165.91,422.6L162.16,426.35L158.41,422.6Z" fill="#000"/>
<path d="M172.31,418.75L176.06,422.5L172.31,426.25L168.56,422.5Z" fill="#000"/>
<path d="M182.46,416.35L186.21,420.1L182.46,423.85L178.71,420.1Z" fill="#000"/>
<path d="M192.62,416.35L196.37,420.1L192.62,423.85L188.87,420.1Z" fill="#000"/>
<path d="M202.77,416.35L206.52,420.1L202.77,423.85L199.02,420.1Z" fill="#000"/>
<path d="M212.93,418.75L216.68,422.5L212.93,426.25L209.18,422.5Z" fill="#000"/>
<path d="M223.08,420.65L226.83,424.4L223.08,428.15L219.33,424.4Z" fill="#000"/>
<path d="M233.24,418.35L236.99,422.1L233.24,425.85L229.49,422.1Z" fill="#000"/>
<path d="M243.39,418.55L247.14,422.3L243.39,426.05L239.64,422.3Z" fill="#000"/>
<path d="M253.55,418.35L257.3,422.1L253.55,425.85L249.8,422.1Z" fill="#000"/>
<path d="M263.7,418.35L267.45,422.1L263.7,425.85L259.95,422.1Z" fill="#000"/>
<path d="M273.86,418.35L277.61,422.1L273.86,425.85L270.11,422.1Z" fill="#000"/>
<path d="M284.01,418.45L287.76,422.2L284.01,425.95L280.26,422.2Z" fill="#000"/>
<path d="M294.17,418.55L297.92,422.3L294.17,426.05L290.42,422.3Z" fill="#000"/>
<path d="M304.32,418.55L308.07,422.3L304.32,426.05L300.57,422.3Z" fill="#000"/>
<path d="M314.48,416.05L318.23,419.8L314.48,423.55L310.73,419.8Z" fill="#000"/>
<path d="M324.63,416.15L328.38,419.9L324.63,423.65L320.88,419.9Z" fill="#000"/>
<path d="M334.79,416.15L338.54,419.9L334.79,423.65L331.04,419.9Z" fill="#000"/>
<path d="M344.94,417.95L348.69,421.7L344.94,425.45L341.19,421.7Z" fill="#000"/>
</g>
<rect x="50.45" y="382.9" width="353.55" height="262" fill="none" stroke="#404040" stroke-width="1.6"/>
<line x1="44.95" y1="644.9" x2="50.45" y2="644.9" stroke="#404040" stroke-width="1.6"/>
<text x="40.6" y="648.2" text-anchor="end" class="t">0</text>
<line x1="47.45" y1="623.07" x2="50.45" y2="623.07" stroke="#404040" stroke-width="1.6"/>
<line x1="44.95" y1="601.23" x2="50.45" y2="601.23" stroke="#404040" stroke-width="1.6"/>
<text x="40.6" y="604.53" text-anchor="end" class="t">2</text>
<line x1="47.45" y1="579.4" x2="50.45" y2="579.4" stroke="#404040" stroke-width="1.6"/>
<line x1="44.95" y1="557.57" x2="50.45" y2="557.57" stroke="#404040" stroke-width="1.6"/>
<text x="40.6" y="560.87" text-anchor="end" class="t">4</text>
<line x1="47.45" y1="535.73" x2="50.45" y2="535.73" stroke="#404040" stroke-width="1.6"/>
<line x1="44.95" y1="513.9" x2="50.45" y2="513.9" stroke="#404040" stroke-width="1.6"/>
<text x="40.6" y="517.2" text-anchor="end" class="t">6</text>
<line x1="47.45" y1="492.07" x2="50.45" y2="492.07" stroke="#404040" stroke-width="1.6"/>
<line x1="44.95" y1="470.23" x2="50.45" y2="470.23" stroke="#404040" stroke-width="1.6"/>
<text x="40.6" y="473.53" text-anchor="end" class="t">8</text>
<line x1="47.45" y1="448.4" x2="50.45" y2="448.4" stroke="#404040" stroke-width="1.6"/>
<line x1="44.95" y1="426.57" x2="50.45" y2="426.57" stroke="#404040" stroke-width="1.6"/>
<text x="40.6" y="429.87" text-anchor="end" class="t">10</text>
<line x1="47.45" y1="404.73" x2="50.45" y2="404.73" stroke="#404040" stroke-width="1.6"/>
<line x1="44.95" y1="382.9" x2="50.45" y2="382.9" stroke="#404040" stroke-width="1.6"/>
<text x="40.6" y="386.2" text-anchor="end" class="t">12</text>
<line x1="50.45" y1="644.9" x2="50.45" y2="650.4" stroke="#404040" stroke-width="1.6"/>
<text x="50.45" y="664.4" text-anchor="middle" class="t">0</text>
<line x1="79.91" y1="644.9" x2="79.91" y2="647.6" stroke="#404040" stroke-width="1.6"/>
<line x1="109.38" y1="644.9" x2="109.38" y2="650.4" stroke="#404040" stroke-width="1.6"/>
<text x="109.38" y="664.4" text-anchor="middle" class="t">5</text>
<line x1="138.84" y1="644.9" x2="138.84" y2="647.6" stroke="#404040" stroke-width="1.6"/>
<line x1="168.3" y1="644.9" x2="168.3" y2="650.4" stroke="#404040" stroke-width="1.6"/>
<text x="168.3" y="664.4" text-anchor="middle" class="t">10</text>
<line x1="197.76" y1="644.9" x2="197.76" y2="647.6" stroke="#404040" stroke-width="1.6"/>
<line x1="227.23" y1="644.9" x2="227.23" y2="650.4" stroke="#404040" stroke-width="1.6"/>
<text x="227.23" y="664.4" text-anchor="middle" class="t">15</text>
<line x1="256.69" y1="644.9" x2="256.69" y2="647.6" stroke="#404040" stroke-width="1.6"/>
<line x1="286.15" y1="644.9" x2="286.15" y2="650.4" stroke="#404040" stroke-width="1.6"/>
<text x="286.15" y="664.4" text-anchor="middle" class="t">20</text>
<line x1="315.61" y1="644.9" x2="315.61" y2="647.6" stroke="#404040" stroke-width="1.6"/>
<line x1="345.07" y1="644.9" x2="345.07" y2="650.4" stroke="#404040" stroke-width="1.6"/>
<text x="345.07" y="664.4" text-anchor="middle" class="t">25</text>
<line x1="374.54" y1="644.9" x2="374.54" y2="647.6" stroke="#404040" stroke-width="1.6"/>
<line x1="404" y1="644.9" x2="404" y2="650.4" stroke="#404040" stroke-width="1.6"/>
<text x="404" y="664.4" text-anchor="middle" class="t">30</text>
<line x1="96.5" y1="419.8" x2="201.9" y2="419.8" stroke="#000" stroke-width="2.2"/>
<text transform="translate(74.4,425.6) scale(1.12,1)" class="sig">σ</text>
<text transform="translate(86.2,434.0) scale(1.1,1)" class="sub">e</text>
<text x="57.2" y="400.4" class="ttl" style="font-size:13.5px">SEEPS-80Cl-2Ti</text>
<text x="175.6" y="688.2" class="ttl" style="font-size:13.5px">Shear strain (%)</text>
<text transform="translate(11.9,523.2) rotate(-90) scale(1,1.07)" text-anchor="middle" class="ttl" style="font-size:13.6px">Shear stress (KPa)</text>
<text x="352" y="425.5" class="lab2">0.22T</text>
<text x="352.2" y="472.8" class="lab2">0.165T</text>
<text x="352.9" y="515.2" class="lab2" style="letter-spacing:0.8px">0.11T</text>
<text x="353.6" y="541.9" class="lab2">0.055T</text>
<text x="353.6" y="564.3" class="lab2">0T</text>
<text transform="translate(204.5,726.3) scale(1,1.08)" class="cap">(b)</text>
</svg>
</body></html>
